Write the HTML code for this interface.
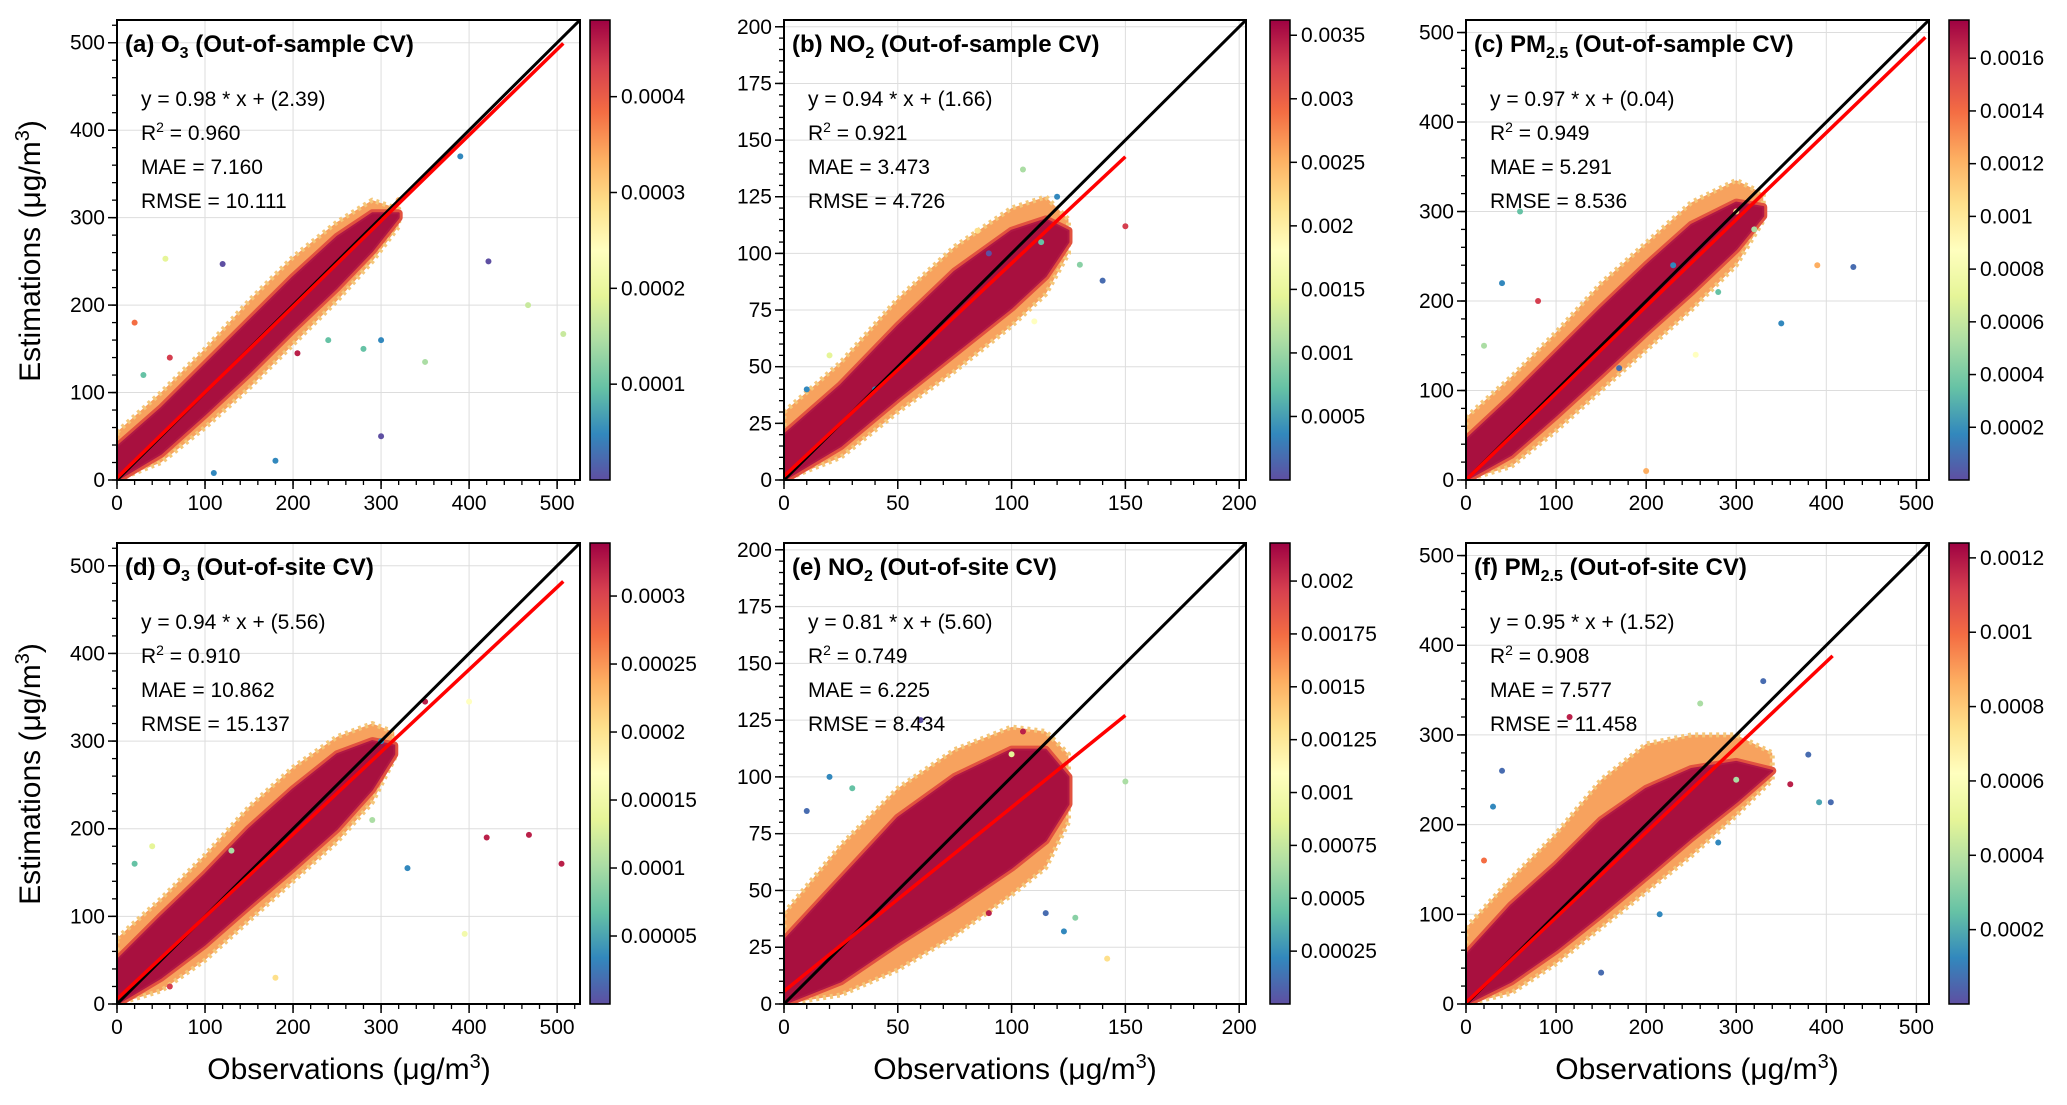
<!DOCTYPE html>
<html><head><meta charset="utf-8"><style>
html,body{margin:0;padding:0;background:#fff;}
svg{display:block;font-family:"Liberation Sans",Arial,sans-serif;}
</style></head><body>
<svg id="fig" width="2067" height="1105" viewBox="0 0 2067 1105" xmlns="http://www.w3.org/2000/svg">
<defs>
<linearGradient id="spec" x1="0" y1="1" x2="0" y2="0">
<stop offset="0" stop-color="#5e4fa2"/><stop offset="0.1" stop-color="#3288bd"/><stop offset="0.2" stop-color="#66c2a5"/><stop offset="0.3" stop-color="#abdda4"/><stop offset="0.4" stop-color="#e6f598"/><stop offset="0.5" stop-color="#ffffbf"/><stop offset="0.6" stop-color="#fee08b"/><stop offset="0.7" stop-color="#fdae61"/><stop offset="0.8" stop-color="#f46d43"/><stop offset="0.9" stop-color="#d53e4f"/><stop offset="1" stop-color="#9e0142"/>
</linearGradient>
</defs>
<text transform="translate(40,251) rotate(-90)" text-anchor="middle" font-size="30">Estimations (μg/m<tspan dy="-11" font-size="20">3</tspan><tspan dy="11">)</tspan></text>
<text transform="translate(40,774) rotate(-90)" text-anchor="middle" font-size="30">Estimations (μg/m<tspan dy="-11" font-size="20">3</tspan><tspan dy="11">)</tspan></text>
<text x="349" y="1079" text-anchor="middle" font-size="30">Observations (μg/m<tspan dy="-11" font-size="20">3</tspan><tspan dy="11">)</tspan></text>
<text x="1015" y="1079" text-anchor="middle" font-size="30">Observations (μg/m<tspan dy="-11" font-size="20">3</tspan><tspan dy="11">)</tspan></text>
<text x="1697" y="1079" text-anchor="middle" font-size="30">Observations (μg/m<tspan dy="-11" font-size="20">3</tspan><tspan dy="11">)</tspan></text>
</svg>
<script>
// ---- data ----
const panelLabels = ["(a)","(b)","(c)","(d)","(e)","(f)"];
const species = ["O3","NO2","PM2.5","O3","NO2","PM2.5"];
const cvTypes = ["Out-of-sample CV","Out-of-sample CV","Out-of-sample CV","Out-of-site CV","Out-of-site CV","Out-of-site CV"];
const slopes = [0.98,0.94,0.97,0.94,0.81,0.95];
const intercepts = [2.39,1.66,0.04,5.56,5.60,1.52];
const fitEnd = [507,150,510,507,150,407];
const r2 = ["0.960","0.921","0.949","0.910","0.749","0.908"];
const mae = ["7.160","3.473","5.291","10.862","6.225","7.577"];
const rmse = ["10.111","4.726","8.536","15.137","8.434","11.458"];
const axisMax = [526,203,514,526,203,514];
const xTicks = [[0,100,200,300,400,500],[0,50,100,150,200],[0,100,200,300,400,500],[0,100,200,300,400,500],[0,50,100,150,200],[0,100,200,300,400,500]];
const yTicks = [[0,100,200,300,400,500],[0,25,50,75,100,125,150,175,200],[0,100,200,300,400,500],[0,100,200,300,400,500],[0,25,50,75,100,125,150,175,200],[0,100,200,300,400,500]];
const xMinorStep = [20,10,20,20,10,20];
const yMinorStep = [20,5,20,20,5,20];
const cbarMax = [0.00048,0.00362,0.001745,0.000339,0.00218,0.00124];
const cbarTicks = [[0.0001,0.0002,0.0003,0.0004],[0.0005,0.001,0.0015,0.002,0.0025,0.003,0.0035],[0.0002,0.0004,0.0006,0.0008,0.001,0.0012,0.0014,0.0016],[0.00005,0.0001,0.00015,0.0002,0.00025,0.0003],[0.00025,0.0005,0.00075,0.001,0.00125,0.0015,0.00175,0.002],[0.0002,0.0004,0.0006,0.0008,0.001,0.0012]];
const cbarTickLabels = [["0.0001","0.0002","0.0003","0.0004"],["0.0005","0.001","0.0015","0.002","0.0025","0.003","0.0035"],["0.0002","0.0004","0.0006","0.0008","0.001","0.0012","0.0014","0.0016"],["0.00005","0.0001","0.00015","0.0002","0.00025","0.0003"],["0.00025","0.0005","0.00075","0.001","0.00125","0.0015","0.00175","0.002"],["0.0002","0.0004","0.0006","0.0008","0.001","0.0012"]];
// density cloud envelopes (observation x, estimation low/high)
const envX = [[0,50,100,150,200,250,290,320],[0,25,50,75,100,115,125],[0,50,100,150,200,250,300,330],[0,50,100,150,200,250,290,315],[0,25,50,75,100,115,125],[0,50,100,150,200,250,300,340]];
const outerLo = [[0,20,60,105,155,205,250,290],[0,10,30,48,68,82,100],[0,15,55,100,145,190,240,290],[0,15,50,95,140,185,230,280],[0,4,15,30,48,60,80],[0,12,45,85,125,165,210,250]];
const outerHi = [[55,100,150,205,255,295,320,310],[30,52,80,103,120,125,115],[70,115,165,220,265,310,335,320],[75,120,170,225,270,305,320,310],[40,70,95,112,122,120,110],[85,140,190,250,290,300,300,280]];
const coreLo = [[0,30,75,122,172,220,262,300],[0,15,36,56,76,90,105],[0,28,72,118,165,210,258,295],[0,30,68,112,155,200,245,285],[0,10,27,43,60,72,88],[0,25,60,100,142,185,225,260]];
const coreHi = [[38,82,132,182,232,278,305,305],[20,42,68,92,110,115,110],[45,92,142,192,240,285,310,305],[50,100,148,200,245,285,300,295],[28,55,82,100,112,112,100],[55,110,155,205,240,262,270,260]];
// scattered outliers: x, y, colour fraction
const outX = [[55,120,205,240,300,350,390,422,467,507,300,180,110,20,30,60,280,320],[105,120,140,150,113,85,40,130,10,20,90,110],[170,230,320,350,390,430,255,60,80,200,20,40,280,300],[350,400,420,468,505,395,330,130,60,180,20,40,300,290],[142,123,115,150,105,60,20,128,10,30,90,100],[260,330,392,380,405,360,150,30,115,215,40,20,280,300]];
const outY = [[253,247,145,160,50,135,370,250,200,167,160,22,8,180,120,140,150,320],[137,125,88,112,105,110,40,95,40,55,100,70],[125,240,280,175,240,238,140,300,200,10,150,220,210,300],[345,345,190,193,160,80,155,175,20,30,160,180,300,210],[20,32,40,98,120,125,100,38,85,95,40,110],[335,360,225,278,225,245,35,220,320,100,260,160,180,250]];
const outC = [[0.4,0.0,0.95,0.2,0.0,0.3,0.1,0.0,0.35,0.35,0.1,0.1,0.1,0.8,0.2,0.9,0.2,0.7],[0.3,0.1,0.05,0.9,0.2,0.6,0.1,0.25,0.1,0.4,0.0,0.5],[0.05,0.1,0.3,0.1,0.7,0.05,0.5,0.2,0.9,0.7,0.3,0.1,0.2,0.6],[0.95,0.5,0.95,0.95,0.95,0.45,0.1,0.3,0.9,0.6,0.2,0.4,0.1,0.3],[0.6,0.1,0.05,0.3,0.95,0.0,0.1,0.25,0.05,0.2,0.95,0.4],[0.3,0.05,0.15,0.05,0.05,0.95,0.05,0.1,0.95,0.1,0.05,0.8,0.1,0.3]];

// ---- layout ----
const colL = [117,784,1466], colR = [580,1246,1929];
const rowT = [20,543], rowB = [480,1004];
const cbL = [590,1270,1949];
const NS = "http://www.w3.org/2000/svg";
const svg = document.getElementById('fig');
function mk(tag, attrs, parent){const e=document.createElementNS(NS,tag);for(const k in attrs)e.setAttribute(k,attrs[k]);(parent||svg).appendChild(e);return e;}
const stops=[[0,[94,79,162]],[0.1,[50,136,189]],[0.2,[102,194,165]],[0.3,[171,221,164]],[0.4,[230,245,152]],[0.5,[255,255,191]],[0.6,[254,224,139]],[0.7,[253,174,97]],[0.8,[244,109,67]],[0.9,[213,62,79]],[1,[158,1,66]]];
function cmap(t){for(let i=1;i<stops.length;i++){if(t<=stops[i][0]){const a=stops[i-1],b=stops[i],f=(t-a[0])/(b[0]-a[0]);return 'rgb('+a[1].map((v,j)=>Math.round(v+(b[1][j]-v)*f)).join(',')+')';}}return 'rgb(158,1,66)';}
const subs={"O3":["O","3"],"NO2":["NO","2"],"PM2.5":["PM","2.5"]};

for(let p=0;p<6;p++){
  const c=p%3,r=Math.floor(p/3);
  const L=colL[c],R=colR[c],T=rowT[r],B=rowB[r],mx=axisMax[p];
  const sx=v=>L+(v/mx)*(R-L), sy=v=>B-(v/mx)*(B-T);
  const g=mk('g',{});
  
  
  const clipId='clip'+p;
  const cp=mk('clipPath',{id:clipId},g);mk('rect',{x:L,y:T,width:R-L,height:B-T},cp);
  xTicks[p].forEach(v=>{const l=mk('line',{x1:sx(v),x2:sx(v),y1:T,y2:B,stroke:'#dddddd','stroke-width':1},g);});
  yTicks[p].forEach(v=>{const l=mk('line',{x1:L,x2:R,y1:sy(v),y2:sy(v),stroke:'#dddddd','stroke-width':1},g);});
  const pg=mk('g',{'clip-path':'url(#'+clipId+')'},g);
  const ex=envX[p];
  let pts=ex.map((x,i)=>sx(x)+','+sy(outerHi[p][i])).concat(ex.slice().reverse().map((x,i)=>sx(x)+','+sy(outerLo[p][ex.length-1-i])));
  const o=mk('polygon',{points:pts.join(' '),fill:'#f7a25e',stroke:'#f4c77a','stroke-width':5,'stroke-dasharray':'3 4','stroke-linejoin':'round'},pg);
  
  pts=ex.map((x,i)=>sx(x)+','+sy(coreHi[p][i])).concat(ex.slice().reverse().map((x,i)=>sx(x)+','+sy(coreLo[p][ex.length-1-i])));
  const mid=mk('polygon',{points:pts.join(' '),fill:'#e2523f',stroke:'#e2523f','stroke-width':8,'stroke-linejoin':'round'},pg);
  
  const core=mk('polygon',{points:pts.join(' '),fill:'#a8103f',stroke:'#b01844','stroke-width':2,'stroke-linejoin':'round'},pg);
  
  outX[p].forEach((x,i)=>{const d=mk('circle',{cx:sx(x),cy:sy(outY[p][i]),r:3,fill:cmap(outC[p][i])},pg);});
  const one=mk('line',{x1:sx(0),y1:sy(0),x2:sx(mx),y2:sy(mx),stroke:'#000','stroke-width':3},pg);
  
  const fit=mk('line',{x1:sx(0),y1:sy(intercepts[p]),x2:sx(fitEnd[p]),y2:sy(slopes[p]*fitEnd[p]+intercepts[p]),stroke:'#ff0000','stroke-width':3.5},pg);
  
  const fr=mk('rect',{x:L,y:T,width:R-L,height:B-T,fill:'none',stroke:'#000','stroke-width':2},g);
  
  for(let v=0;v<=mx;v+=xMinorStep[p]){mk('line',{x1:sx(v),x2:sx(v),y1:B,y2:B+5,stroke:'#000','stroke-width':1.3},g);}
  for(let v=0;v<=mx;v+=yMinorStep[p]){mk('line',{x1:L,x2:L-5,y1:sy(v),y2:sy(v),stroke:'#000','stroke-width':1.3},g);}
  xTicks[p].forEach(v=>{mk('line',{x1:sx(v),x2:sx(v),y1:B,y2:B+9,stroke:'#000','stroke-width':1.5},g);
    const t=mk('text',{x:sx(v),y:B+30,'text-anchor':'middle','font-size':21},g);t.textContent=v;
    });
  yTicks[p].forEach(v=>{mk('line',{x1:L,x2:L-9,y1:sy(v),y2:sy(v),stroke:'#000','stroke-width':1.5},g);
    const t=mk('text',{x:L-12,y:sy(v)+7,'text-anchor':'end','font-size':21},g);t.textContent=v;
    });
  const tt=mk('text',{x:L+8,y:T+32,'font-size':24,'font-weight':'bold'},g);
  
  const s=subs[species[p]];
  tt.innerHTML=panelLabels[p]+' '+s[0]+'<tspan dy="6" font-size="16">'+s[1]+'</tspan><tspan dy="-6"> ('+cvTypes[p]+')</tspan>';
  const st=[ 'y = '+slopes[p].toFixed(2)+' * x + ('+intercepts[p].toFixed(2)+')', null, 'MAE = '+mae[p], 'RMSE = '+rmse[p]];
  st.forEach((s2,i)=>{const t=mk('text',{x:L+24,y:T+86+i*34,'font-size':21},g);
    
    if(s2===null)t.innerHTML='R<tspan dy="-8" font-size="14">2</tspan><tspan dy="8"> = '+r2[p]+'</tspan>';else t.textContent=s2;});
  const cx=cbL[c];
  const cb=mk('rect',{x:cx,y:T,width:20,height:B-T,fill:'url(#spec)',stroke:'#000','stroke-width':1.5},g);
  
  cbarTicks[p].forEach((v,i)=>{const y=B-(v/cbarMax[p])*(B-T);
    mk('line',{x1:cx+20,x2:cx+27,y1:y,y2:y,stroke:'#000','stroke-width':1.5},g);
    const t=mk('text',{x:cx+31,y:y+7,'font-size':21},g);t.textContent=cbarTickLabels[p][i];
    });
}
</script>
</body></html>
